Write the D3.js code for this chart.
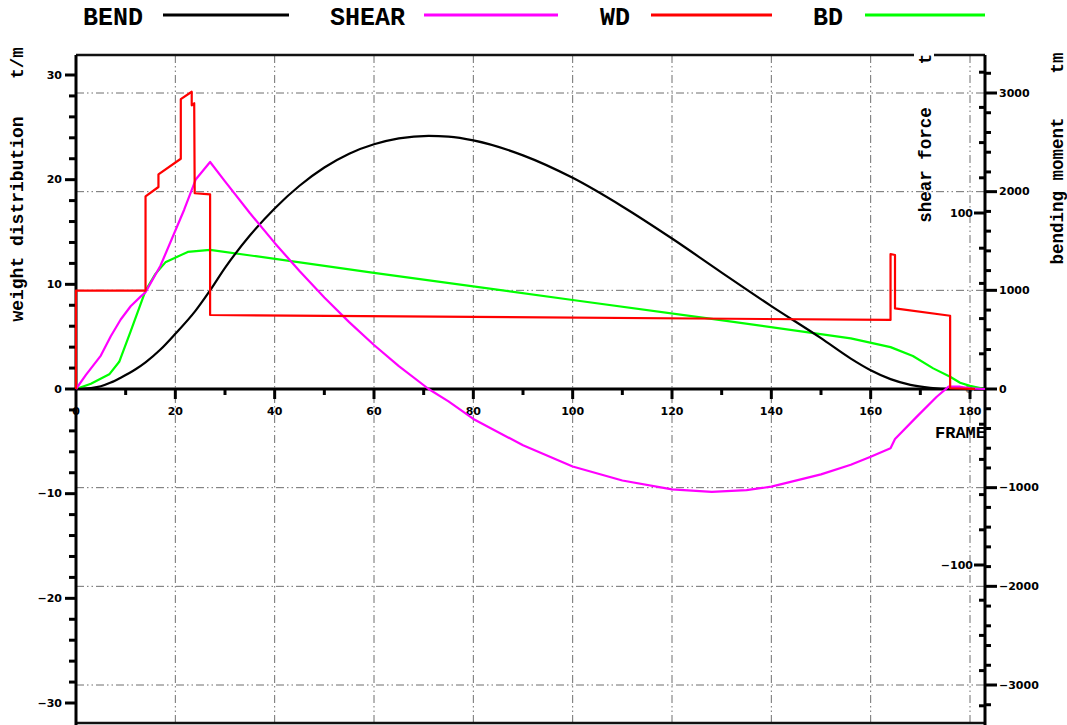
<!DOCTYPE html>
<html><head><meta charset="utf-8">
<script src="https://cdn.jsdelivr.net/npm/d3@7"></script>
<style>
html,body{margin:0;padding:0;background:#fff;}
svg{display:block;}
</style></head>
<body>
<svg id="c" width="1067" height="725"></svg>
<script>
// ---- data ----
const seriesNames = ["BEND", "SHEAR", "WD", "BD"];
const seriesColors = ["#000000", "#ff00ff", "#ff0000", "#00ff00"];

const bendFrame = [0,3,5,7,9,12,14,17,20,24,27,30,35,40,45,50,55,60,65,71,75,80,90,100,110,120,130,140,150,156,160,164,168,172,176,183];
const bendValue = [0,10,28,65,115,200,270,400,560,790,1000,1228,1555,1830,2060,2245,2385,2480,2540,2566,2558,2520,2368,2140,1850,1525,1180,840,515,308,190,100,42,12,0,0];

const shearFrame = [0,2,5,7,9,11,13,14,17,21.8,24.1,27,30,35,40,45,50,55,60,65,71,75,80,90,100,110,120,128,135,140,150,156,160,164,164.9,169.3,173.3,175.7,178,180,183];
const shearValue = [0,8,19,30,39.5,47,52.5,55,70,102,119,129,118,100,83,67,52,38,25,13,0,-7,-17,-32,-44,-52,-57,-58.5,-57.5,-55.5,-48.5,-43,-38.5,-33.7,-28.4,-15.7,-4.4,1.3,1.3,0.4,0];

const wdFrame = [0,0,14,14,16.6,16.6,21.1,21.1,23.3,23.3,23.8,23.9,27,27,164,164,164.9,164.9,176,176,181];
const wdValue = [0,9.4,9.4,18.4,19.3,20.5,22.0,27.7,28.4,27.1,27.3,18.7,18.6,7.07,6.6,12.9,12.8,7.7,7.0,0.07,0];

const bdFrame = [0,3,6.7,8.7,11,14,16,18,22.5,27,60,100,128,156,164,168.5,172.6,176,178,180,183];
const bdValue = [0,0.5,1.4,2.6,5.5,9.4,11,12.1,13.1,13.3,11.1,8.5,6.7,4.84,4.0,3.15,1.97,1.17,0.6,0.3,0];

const frameTicks = [0,20,40,60,80,100,120,140,160,180];
const weightTicks = [-30,-20,-10,0,10,20,30];
const shearTicks = [-100,0,100];
const bendTicks = [-3000,-2000,-1000,0,1000,2000,3000];

// ---- layout ----
const svg = d3.select("#c");
const L = 76, R = 985, T = 55, B = 723;
const x = d3.scaleLinear().domain([0,180]).range([76,970]);
const yW = d3.scaleLinear().domain([0,30]).range([389,75]);
const yS = d3.scaleLinear().domain([0,100]).range([389,213]);
const yM = d3.scaleLinear().domain([0,3000]).range([389,93]);
const x0 = yW(0);

const tickFont = "'DejaVu Sans', sans-serif";
const monoFont = "'Liberation Mono', 'Courier New', monospace";
const gridColor = "#6f6f6f";
const gridDash = "8,3,1.5,3,1.5,3";

// grid
const g = svg.append("g");
bendTicks.filter(v => v !== 0).forEach(v => {
  g.append("line").attr("x1", L).attr("x2", R).attr("y1", yM(v)).attr("y2", yM(v))
   .attr("stroke", gridColor).attr("stroke-width", 1).attr("stroke-dasharray", gridDash);
});
frameTicks.filter(v => v !== 0).forEach(v => {
  g.append("line").attr("x1", x(v)).attr("x2", x(v)).attr("y1", T).attr("y2", B)
   .attr("stroke", gridColor).attr("stroke-width", 1).attr("stroke-dasharray", gridDash);
});

// frame borders
svg.append("line").attr("x1", L).attr("x2", 914).attr("y1", T).attr("y2", T).attr("stroke", "#111").attr("stroke-width", 2.5);
svg.append("line").attr("x1", 934).attr("x2", R).attr("y1", T).attr("y2", T).attr("stroke", "#111").attr("stroke-width", 2.5);
svg.append("line").attr("x1", L).attr("x2", R).attr("y1", B).attr("y2", B).attr("stroke", "#111").attr("stroke-width", 2.5);

// left axis
svg.append("line").attr("x1", L).attr("x2", L).attr("y1", T).attr("y2", 725).attr("stroke", "#000").attr("stroke-width", 3);
d3.range(-30, 31, 2).forEach(v => {
  const major = v % 10 === 0;
  svg.append("line").attr("x1", major ? 65 : 69).attr("x2", L).attr("y1", yW(v)).attr("y2", yW(v))
    .attr("stroke", "#000").attr("stroke-width", 3);
});
weightTicks.forEach(v => {
  svg.append("text").attr("x", 62).attr("y", yW(v)).attr("text-anchor", "end").attr("dominant-baseline", "central")
    .attr("font-family", tickFont).attr("font-weight", "bold").attr("font-size", 11).text(v < 0 ? "\u2212" + Math.abs(v) : v);
});

// right axis
svg.append("line").attr("x1", R).attr("x2", R).attr("y1", T).attr("y2", 725).attr("stroke", "#000").attr("stroke-width", 3);
d3.range(-3400, 3401, 200).forEach(v => {
  const major = v % 1000 === 0;
  const yy = yM(v);
  if (yy < T + 2 || yy > B) return;
  svg.append("line").attr("x1", R).attr("x2", major ? 997 : 991).attr("y1", yy).attr("y2", yy)
    .attr("stroke", "#000").attr("stroke-width", 3);
});
d3.range(-180, 181, 20).forEach(v => {
  const major = v % 100 === 0;
  const yy = yS(v);
  if (yy < T + 2 || yy > B) return;
  svg.append("line").attr("x1", major ? 974 : 979).attr("x2", R).attr("y1", yy).attr("y2", yy)
    .attr("stroke", "#000").attr("stroke-width", 3);
});
bendTicks.forEach(v => {
  svg.append("text").attr("x", 999).attr("y", yM(v)).attr("text-anchor", "start").attr("dominant-baseline", "central")
    .attr("font-family", tickFont).attr("font-weight", "bold").attr("font-size", 11).text(v < 0 ? "\u2212" + Math.abs(v) : v);
});
shearTicks.forEach(v => {
  svg.append("text").attr("x", 973).attr("y", yS(v)).attr("text-anchor", "end").attr("dominant-baseline", "central")
    .attr("font-family", tickFont).attr("font-weight", "bold").attr("font-size", 11)
    .attr("fill", v === 0 ? "#888" : "#000").text(v < 0 ? "\u2212" + Math.abs(v) : v);
});

// x axis (frame) on zero line
svg.append("line").attr("x1", L).attr("x2", R).attr("y1", x0).attr("y2", x0).attr("stroke", "#000").attr("stroke-width", 3);
d3.range(10, 181, 10).forEach(v => {
  const major = v % 20 === 0;
  svg.append("line").attr("x1", x(v)).attr("x2", x(v)).attr("y1", x0).attr("y2", x0 + (major ? 10 : 6))
    .attr("stroke", "#000").attr("stroke-width", 3);
});
frameTicks.forEach(v => {
  svg.append("text").attr("x", x(v)).attr("y", 411).attr("text-anchor", "middle").attr("dominant-baseline", "central")
    .attr("font-family", tickFont).attr("font-weight", "bold").attr("font-size", 11).text(v);
});
svg.append("text").attr("x", 986).attr("y", 433).attr("text-anchor", "end").attr("dominant-baseline", "central")
  .attr("font-family", monoFont).attr("font-weight", "bold").attr("font-size", 17).text("FRAME");

// axis titles
function vtext(cx, cy, txt, size) {
  svg.append("text").attr("transform", `translate(${cx},${cy}) rotate(-90)`)
    .attr("text-anchor", "middle").attr("dominant-baseline", "central")
    .attr("font-family", monoFont).attr("font-weight", "bold").attr("font-size", size).text(txt);
}
vtext(18, 63, "t/m", 17.5);
vtext(18, 219, "weight distribution", 18);
vtext(926, 59, "t", 17.5);
vtext(926, 165, "shear force", 17.5);
vtext(1058, 63, "tm", 17.5);
vtext(1058, 191, "bending moment", 17.5);

// curves
function draw(fr, vals, ys, color, curve) {
  const pts = fr.map((f, i) => [f, vals[i]]);
  const line = d3.line().x(d => x(d[0])).y(d => ys(d[1])).curve(curve || d3.curveLinear);
  svg.append("path").datum(pts).attr("d", line).attr("fill", "none")
    .attr("stroke", color).attr("stroke-width", 2.2).attr("stroke-linejoin", "round");
}
draw(bdFrame, bdValue, yW, seriesColors[3]);
draw(bendFrame, bendValue, yM, seriesColors[0], d3.curveMonotoneX);
draw(shearFrame, shearValue, yS, seriesColors[1]);
draw(wdFrame, wdValue, yW, seriesColors[2]);

// legend
const legendTextX = [83, 330, 600, 813];
const legendLine = [[163, 289], [424, 558], [651, 772], [865, 985]];
seriesNames.forEach((n, i) => {
  svg.append("text").attr("x", legendTextX[i]).attr("y", 25).attr("font-family", monoFont)
    .attr("font-weight", "bold").attr("font-size", 25).text(n);
  svg.append("line").attr("x1", legendLine[i][0]).attr("x2", legendLine[i][1]).attr("y1", 15).attr("y2", 15)
    .attr("stroke", seriesColors[i]).attr("stroke-width", 3);
});
</script>
</body></html>
